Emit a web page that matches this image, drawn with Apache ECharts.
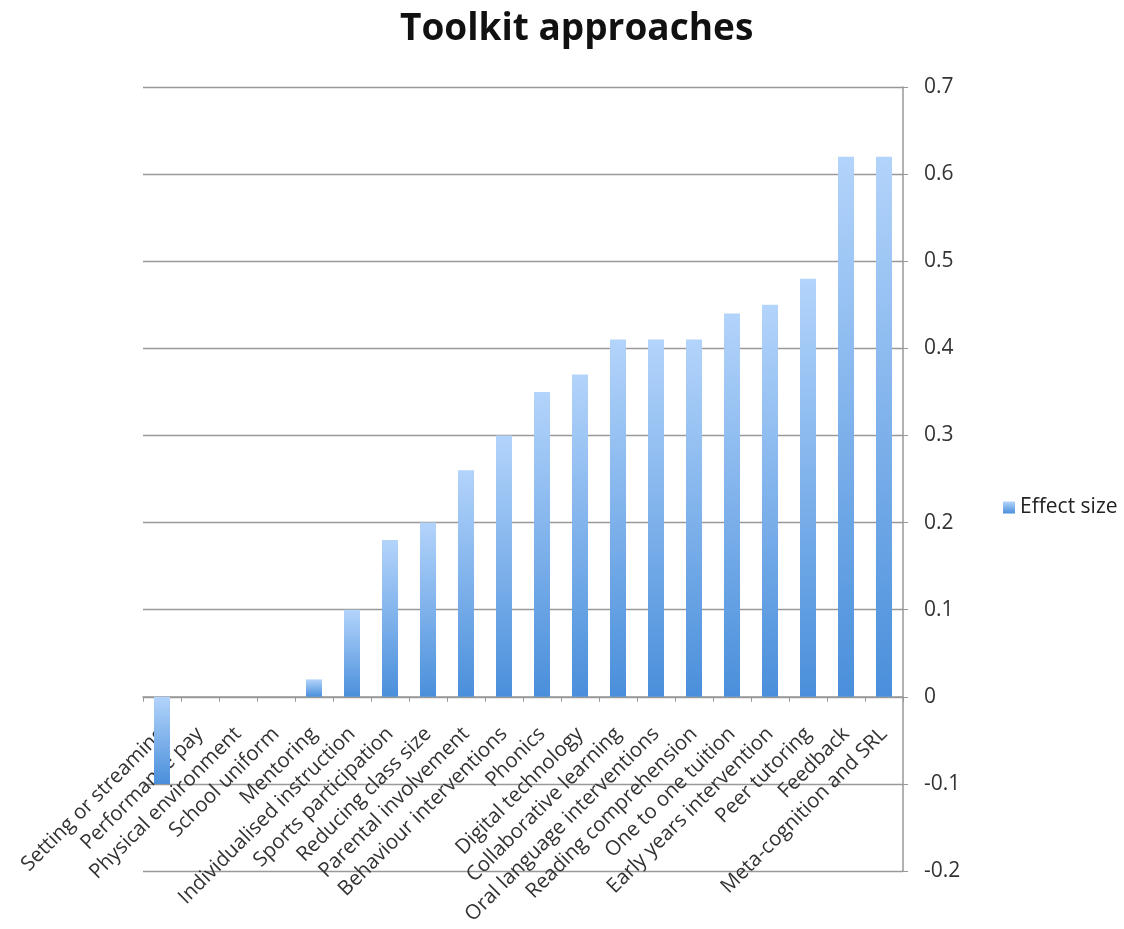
<!DOCTYPE html>
<html><head><meta charset="utf-8">
<script src="https://cdn.jsdelivr.net/npm/echarts@6/dist/echarts.min.js"></script>
<style>html,body{margin:0;padding:0;background:#fff}#c{width:1124px;height:929px}</style>
</head><body><div id="c"></div>
<script>
const categories = ["Setting or streaming","Performance pay","Physical environment","School uniform","Mentoring","Individualised instruction","Sports participation","Reducing class size","Parental involvement","Behaviour interventions","Phonics","Digital technology","Collaborative learning","Oral language interventions","Reading comprehension","One to one tuition","Early years intervention","Peer tutoring","Feedback","Meta-cognition and SRL"];
const effectSize = [-0.1,0,0,0,0.02,0.1,0.18,0.2,0.26,0.3,0.35,0.37,0.41,0.41,0.41,0.44,0.45,0.48,0.62,0.62];
const seriesName = "Effect size";
const titleText = "Toolkit approaches";
const yMin = -0.2, yMax = 0.7, yStep = 0.1;

const W = 1124, H = 929;
const gTop = 87, gBottom = 58, gLeft = 143, gRight = 221;
const plotH = H - gTop - gBottom;
const zeroOffset = -((0 - yMin) / (yMax - yMin)) * plotH;

const chart = echarts.init(document.getElementById('c'));
const grad = new echarts.graphic.LinearGradient(0,0,0,1,[{offset:0,color:'#b3d4fb'},{offset:1,color:'#4a8fdb'}]);
chart.setOption({
  animation:false,
  textStyle:{fontFamily:'"Open Sans", sans-serif'},
  title:{text:titleText,left:395,top:6,textStyle:{fontSize:37,fontWeight:'bold',color:'#111',fontFamily:'"Open Sans", Lato, sans-serif'}},
  legend:{data:[seriesName],orient:'vertical',left:998,top:492,itemWidth:12,itemHeight:12,itemGap:4,
    textStyle:{fontSize:21,color:'#222',fontFamily:'"Open Sans", sans-serif'},icon:'rect'},
  grid:{left:gLeft,right:gRight,top:gTop,bottom:gBottom,containLabel:false,outerBoundsMode:'none'},
  xAxis:{type:'category',data:categories,position:'bottom',offset:zeroOffset,
    axisLine:{onZero:false,lineStyle:{color:'#999',width:1.5}},
    axisTick:{show:true,length:5,lineStyle:{color:'#999'}},
    axisLabel:{rotate:45,interval:0,fontSize:20.5,color:'#333',margin:34,fontFamily:'"Open Sans", sans-serif'}},
  yAxis:{type:'value',position:'right',min:yMin,max:yMax,interval:yStep,
    axisLine:{show:true,lineStyle:{color:'#999',width:1.5}},
    axisTick:{show:true,length:5,lineStyle:{color:'#999'}},
    splitLine:{lineStyle:{color:'#999',width:1.3}},
    axisLabel:{fontSize:21,color:'#333',margin:21,fontFamily:'"Open Sans", sans-serif',
      formatter:v=>{const r=Math.round(v*10)/10;return r===0?'0':String(r);}}},
  series:[{name:seriesName,type:'bar',data:effectSize,barWidth:16,itemStyle:{color:grad}}]
});
</script></body></html>
